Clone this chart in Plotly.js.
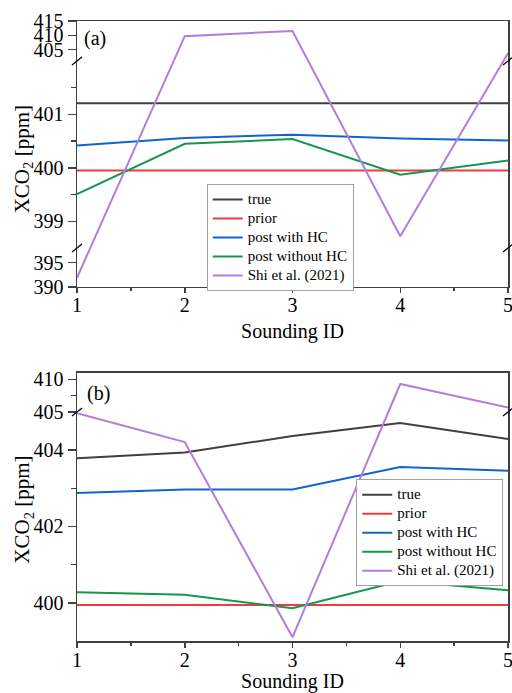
<!DOCTYPE html>
<html>
<head>
<meta charset="utf-8">
<script src="https://cdn.plot.ly/plotly-3.0.1.min.js"></script>
<style>html,body{margin:0;padding:0;background:#fff;}#chart{width:512px;height:693px;}</style>
</head>
<body>
<div id="chart"></div>
<script>
// ---- data ----
const soundingIDs = [1, 2, 3, 4, 5];
const seriesNames = ['true', 'prior', 'post with HC', 'post without HC', 'Shi et al. (2021)'];

// panel (a)
const aTrue      = [401.21, 401.21, 401.21, 401.21, 401.21];
const aPrior     = [399.95, 399.95, 399.95, 399.95, 399.95];
const aPostHC    = [400.42, 400.56, 400.62, 400.55, 400.51];
const aPostNoHC  = [399.51, 400.45, 400.54, 399.87, 400.14];
const aShi       = [391.9, 409.7, 411.5, 398.72, 403.7];

// panel (b)
const bTrue      = [403.79, 403.94, 404.37, 404.71, 404.29];
const bPrior     = [399.94, 399.94, 399.94, 399.94, 399.94];
const bPostHC    = [402.88, 402.97, 402.97, 403.56, 403.46];
const bPostNoHC  = [400.28, 400.21, 399.86, 400.57, 400.33];
const bShi       = [404.97, 404.21, 399.10, 409.3, 405.67];

// tick labels
const xTicks       = [1, 2, 3, 4, 5];
const aYTicks      = [390, 395, 399, 400, 401, 405, 410, 415];
const aYMinorTicks = [399.5, 400.5, 401.5];
const bYTicks      = [400, 402, 404, 405, 410];
const bYMinorTicks = [401, 403, 407.5];
const yTitle = 'XCO<sub>2</sub> [ppm]';
const xTitle = 'Sounding ID';

// ---- broken-axis scales (value range -> fraction of axis height) ----
const aSegments = [
  {lo: 390,   hi: 398, f0: 0,      f1: 0.1466},
  {lo: 398.5, hi: 402, f0: 0.1466, f1: 0.8496},
  {lo: 401,   hi: 415, f0: 0.8496, f1: 1}
];
const bSegments = [
  {lo: 399, hi: 405, f0: 0,      f1: 0.8545},
  {lo: 405, hi: 411, f0: 0.8545, f1: 1}
];
function makeScale(segs) {
  return function (v) {
    let s = segs[segs.length - 1];
    for (const seg of segs) { if (v <= seg.hi) { s = seg; break; } }
    return s.f0 + (v - s.lo) / (s.hi - s.lo) * (s.f1 - s.f0);
  };
}
const scaleA = makeScale(aSegments);
const scaleB = makeScale(bSegments);

const colors = ['#404040', '#f03c3c', '#1462d2', '#169650', '#b07ede'];
const FONT = 'Liberation Serif';

const aSeries = [aTrue, aPrior, aPostHC, aPostNoHC, aShi];
const bSeries = [bTrue, bPrior, bPostHC, bPostNoHC, bShi];

function legendName(s) { return '<span style="font-size:15px">' + s + '</span>'; }

const traces = [];
aSeries.forEach((vals, i) => {
  traces.push({
    x: soundingIDs, y: vals.map(scaleA), customdata: vals,
    hovertemplate: '%{customdata}<extra></extra>',
    name: legendName(seriesNames[i]), type: 'scatter', mode: 'lines',
    line: {color: colors[i], width: 2}, xaxis: 'x', yaxis: 'y', legend: 'legend'
  });
});
bSeries.forEach((vals, i) => {
  traces.push({
    x: soundingIDs, y: vals.map(scaleB), customdata: vals,
    hovertemplate: '%{customdata}<extra></extra>',
    name: legendName(seriesNames[i]), type: 'scatter', mode: 'lines',
    line: {color: colors[i], width: 2}, xaxis: 'x2', yaxis: 'y2', legend: 'legend2'
  });
});

const axisColor = '#404040';
function xAxis(anchor) {
  return {
    anchor: anchor, domain: [0, 1], range: [1, 5],
    tickmode: 'array', tickvals: xTicks, ticktext: xTicks.map(String),
    ticks: 'outside', ticklen: 5, tickwidth: 1.5, tickcolor: axisColor,
    minor: {tickmode: 'linear', tick0: 1, dtick: 0.5, ticks: 'outside', ticklen: 3, tickwidth: 1.5, tickcolor: axisColor},
    showline: true, linecolor: axisColor, linewidth: 1.5, mirror: true,
    showgrid: false, zeroline: false,
    ticklabelstandoff: -5, ticklabeloverflow: 'allow',
    tickfont: {family: FONT, size: 20, color: '#000'},
    title: {text: xTitle, font: {family: FONT, size: 20, color: '#000'}, standoff: 8}
  };
}
function yAxis(anchor, domain, scale, ticks, minorTicks) {
  return {
    anchor: anchor, domain: domain, range: [0, 1],
    tickmode: 'array', tickvals: ticks.map(scale), ticktext: ticks.map(String),
    ticks: 'outside', ticklen: 8, tickwidth: 1.5, tickcolor: axisColor,
    minor: {tickmode: 'array', tickvals: minorTicks.map(scale), ticks: 'outside', ticklen: 5, tickwidth: 1.5, tickcolor: axisColor},
    showline: true, linecolor: axisColor, linewidth: 1.5, mirror: true,
    showgrid: false, zeroline: false, ticklabeloverflow: 'allow',
    tickfont: {family: FONT, size: 20, color: '#000'}
  };
}

function breakMark(xa, ya, xAnchor, yVal) {
  return {
    type: 'line', xref: xa + ' domain', yref: ya,
    xsizemode: 'pixel', xanchor: xAnchor, x0: -5, x1: 5,
    ysizemode: 'pixel', yanchor: yVal, y0: -4, y1: 4,
    line: {color: '#000', width: 1.2}
  };
}

const shapes = [
  breakMark('x', 'y', 0, aSegments[1].f0), breakMark('x', 'y', 1, aSegments[1].f0),
  breakMark('x', 'y', 0, aSegments[2].f0), breakMark('x', 'y', 1, aSegments[2].f0),
  breakMark('x2', 'y2', 0, bSegments[1].f0), breakMark('x2', 'y2', 1, bSegments[1].f0)
];

const legendStyle = {
  bgcolor: '#fff', bordercolor: '#a0a0a0', borderwidth: 1,
  font: {family: FONT, size: 12, color: '#000'},
  yanchor: 'top', tracegroupgap: 0, itemwidth: 30
};

const titleFont = {family: FONT, size: 21, color: '#000'};
const layout = {
  width: 512, height: 693,
  margin: {l: 77, r: 4, t: 21, b: 52},
  paper_bgcolor: '#fff', plot_bgcolor: '#fff',
  font: {family: FONT, color: '#000'},
  xaxis: xAxis('y'),
  yaxis: yAxis('x', [0.571, 1], scaleA, aYTicks, aYMinorTicks),
  xaxis2: xAxis('y2'),
  yaxis2: yAxis('x2', [0, 0.4323], scaleB, bYTicks, bYMinorTicks),
  legend: Object.assign({x: 0.301, y: 0.737, xanchor: 'left', xref: 'paper', yref: 'paper'}, legendStyle),
  legend2: Object.assign({x: 0.989, y: 0.2608, xanchor: 'right', xref: 'paper', yref: 'paper'}, legendStyle),
  shapes: shapes,
  annotations: [
    {text: '(a)', xref: 'paper', yref: 'paper', x: 0.012, y: 0.971, xanchor: 'left', yanchor: 'middle', showarrow: false, font: {family: FONT, size: 20, color: '#000'}},
    {text: '(b)', xref: 'paper', yref: 'paper', x: 0.019, y: 0.40, xanchor: 'left', yanchor: 'middle', showarrow: false, font: {family: FONT, size: 20, color: '#000'}},
    {text: yTitle, xref: 'paper', yref: 'y domain', x: -0.1253, y: 0.48, xanchor: 'center', yanchor: 'middle', textangle: -90, showarrow: false, font: titleFont},
    {text: yTitle, xref: 'paper', yref: 'y2 domain', x: -0.1253, y: 0.49, xanchor: 'center', yanchor: 'middle', textangle: -90, showarrow: false, font: titleFont}
  ],
  showlegend: true
};

Plotly.newPlot('chart', traces, layout, {displayModeBar: false, staticPlot: true});
</script>
</body>
</html>
